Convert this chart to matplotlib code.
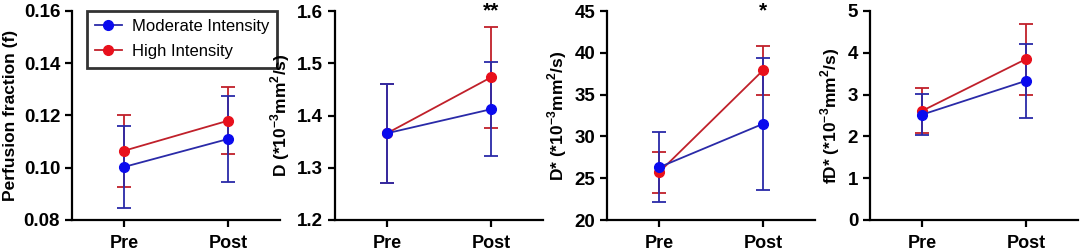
import numpy as np
import matplotlib
matplotlib.use('Agg')
import matplotlib.pyplot as plt
from matplotlib.lines import Line2D

plt.rcParams['font.family'] = ['Liberation Sans', 'DejaVu Sans']
plt.rcParams['font.weight'] = 'bold'
plt.rcParams['mathtext.fontset'] = 'custom'
plt.rcParams['mathtext.rm'] = 'Liberation Sans:bold'
plt.rcParams['mathtext.bf'] = 'Liberation Sans:bold'

# data
groups = ['Pre', 'Post']

f_mod = [0.1003, 0.1110]
f_mod_err = [0.0158, 0.0165]
f_high = [0.1065, 0.1180]
f_high_err = [0.0138, 0.0128]

d_mod = [1.366, 1.412]
d_mod_err = [0.095, 0.090]
d_high = [1.366, 1.473]
d_high_err = [0.095, 0.097]

ds_mod = [26.3, 31.5]
ds_mod_err = [4.2, 7.9]
ds_high = [25.7, 37.9]
ds_high_err = [2.45, 2.95]

fd_mod = [2.52, 3.33]
fd_mod_err = [0.49, 0.89]
fd_high = [2.61, 3.85]
fd_high_err = [0.54, 0.85]

ylabels = ['Perfusion fraction (f)',
           r'D (*10$^{\mathbf{-3}}$mm$^{\mathbf{2}}$/s)',
           r'D* (*10$^{\mathbf{-3}}$mm$^{\mathbf{2}}$/s)',
           r'fD* (*10$^{\mathbf{-3}}$mm$^{\mathbf{2}}$/s)']
ylims = [(0.08, 0.16), (1.2, 1.6), (20, 45), (0, 5)]
yticks = [np.arange(0.08, 0.161, 0.02), np.arange(1.2, 1.61, 0.1),
          np.arange(20, 46, 5), np.arange(0, 6, 1)]
yfmt = ['%.2f', '%.1f', '%d', '%d']
stars = ['', '**', '*', '']

panels = [(f_mod, f_mod_err, f_high, f_high_err),
          (d_mod, d_mod_err, d_high, d_high_err),
          (ds_mod, ds_mod_err, ds_high, ds_high_err),
          (fd_mod, fd_mod_err, fd_high, fd_high_err)]

lefts = [72, 335, 607, 870]
W, H = 1084, 252

fig = plt.figure(figsize=(W / 100, H / 100), dpi=100)

blue_line, blue_mk = '#2a2aa8', '#0a0aee'
red_line, red_mk = '#c0202a', '#e8101c'

x = np.arange(len(groups))
for i, (mod, mod_err, high, high_err) in enumerate(panels):
    ax = fig.add_axes([lefts[i] / W, 1 - 220 / H, 208 / W, 209 / H])
    ax.errorbar(x, high, yerr=high_err, color=red_line, lw=1.3,
                marker='o', ms=7, mfc=red_mk, mec=red_mk,
                capsize=5, capthick=1.3, elinewidth=1.3)
    ax.errorbar(x, mod, yerr=mod_err, color=blue_line, lw=1.3,
                marker='o', ms=7, mfc=blue_mk, mec=blue_mk,
                capsize=5, capthick=1.3, elinewidth=1.3)
    ax.set_xlim(-0.5, 1.5)
    ax.set_ylim(*ylims[i])
    ax.set_yticks(yticks[i])
    ax.set_yticklabels([yfmt[i] % v for v in yticks[i]])
    ax.set_xticks(x)
    ax.set_xticklabels(groups)
    ax.set_ylabel(ylabels[i], fontsize=12.5, fontweight='bold', labelpad=4)
    ax.spines['top'].set_visible(False)
    ax.spines['right'].set_visible(False)
    ax.spines['left'].set_linewidth(1.6)
    ax.spines['bottom'].set_linewidth(1.6)
    ax.tick_params(axis='both', width=1.6, length=5, labelsize=13.5)
    ax.tick_params(axis='x', pad=6, labelsize=13)
    for lab in ax.get_xticklabels() + ax.get_yticklabels():
        lab.set_fontweight('bold')
    if stars[i]:
        ax.text(1, ylims[i][1], stars[i], ha='center', va='center',
                fontsize=15, fontweight='bold')
    if i == 0:
        handles = [Line2D([], [], color=blue_line, lw=1.3, marker='o', ms=7,
                          mfc=blue_mk, mec=blue_mk),
                   Line2D([], [], color=red_line, lw=1.3, marker='o', ms=7,
                          mfc=red_mk, mec=red_mk)]
        leg = ax.legend(handles, ['Moderate Intensity', 'High Intensity'],
                        loc='upper left', bbox_to_anchor=(0.07, 1.0),
                        borderaxespad=0, frameon=True, fancybox=False,
                        edgecolor='black',
                        prop={'weight': 'normal', 'size': 12},
                        handlelength=1.6, handletextpad=0.6,
                        borderpad=0.5, labelspacing=0.6)
        leg.get_frame().set_linewidth(2)

fig.savefig('out.png', dpi=100)
